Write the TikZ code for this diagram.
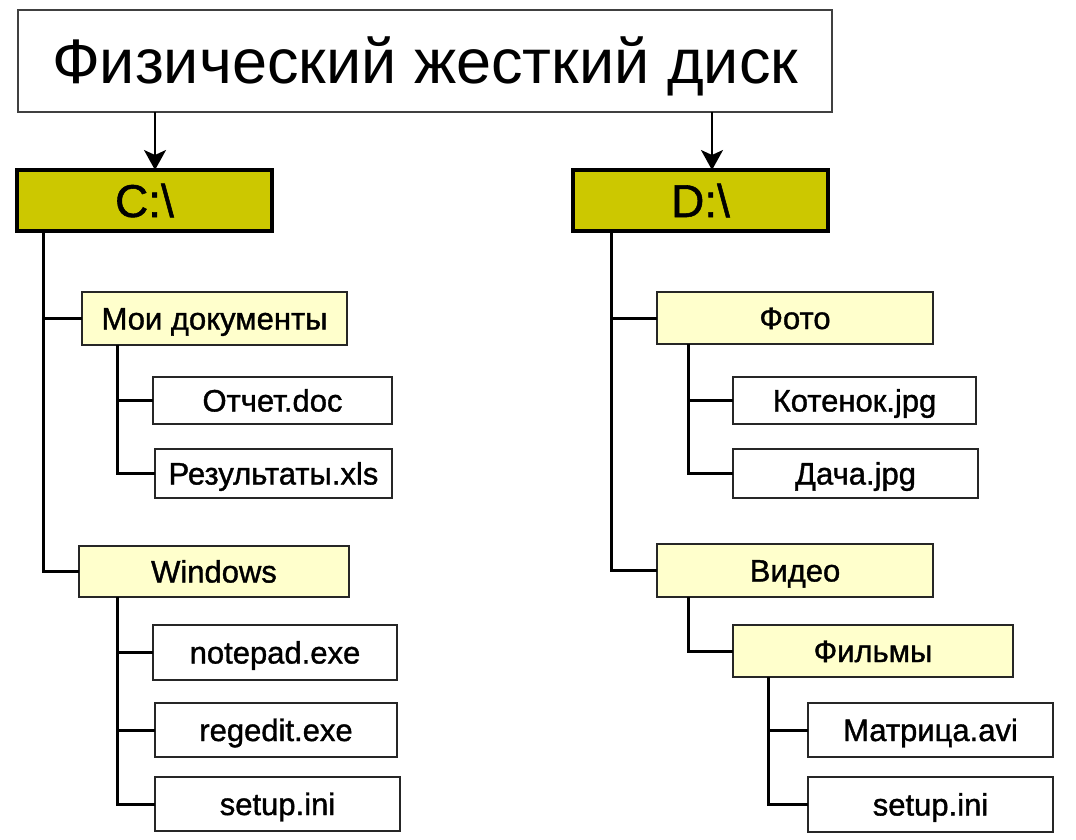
\documentclass[tikz,border=0pt]{standalone}
\usepackage{fontspec}
\setmainfont{Liberation Sans}
\newfontfamily\labelfont[FakeBold=1.2]{Liberation Sans}
\usetikzlibrary{arrows.meta}
\definecolor{drivec}{RGB}{204,200,0}
\definecolor{folderc}{RGB}{255,255,204}
\begin{document}
\begin{tikzpicture}[x=1pt,y=-1pt,
  box/.style={draw=black!85, line width=2pt, fill=white, inner sep=0pt, outer sep=0pt,
    anchor=north west, text height=22pt, text depth=0pt,
    font=\labelfont\fontsize{31}{34}\selectfont},
  folder/.style={box, fill=folderc},
  drive/.style={box, fill=drivec, draw=black, line width=3.5pt, text height=33pt, text depth=0pt,
    font=\labelfont\fontsize{46}{50}\selectfont},
  titlebox/.style={box, line width=1.8pt, draw=black!75, text height=45pt, text depth=0pt,
    font=\normalfont\fontsize{63}{70}\selectfont},
  conn/.style={line width=3pt, black},
  arr/.style={line width=2pt, black, -{Stealth[length=20pt,width=22pt,inset=5pt]}}]
\useasboundingbox[fill=white] (0,0) rectangle (1076,839);

% nodes
\node[titlebox, minimum width=814, minimum height=102] (top) at (18,10) {Физический жесткий диск};
\node[drive, minimum width=255, minimum height=61] (C) at (17,170) {C:\textbackslash};
\node[drive, minimum width=255, minimum height=61] (D) at (573,170) {D:\textbackslash};

\node[folder, minimum width=265, minimum height=53] (mydocs) at (82,292) {Мои документы};
\node[box, minimum width=239, minimum height=47] (otchet) at (153,377) {Отчет.doc};
\node[box, minimum width=237, minimum height=49] (res) at (155,449) {Результаты.xls};
\node[folder, minimum width=270, minimum height=51] (win) at (79,546) {Windows};
\node[box, minimum width=244, minimum height=55] (notepad) at (153,625) {notepad.exe};
\node[box, minimum width=242, minimum height=54] (regedit) at (155,703) {regedit.exe};
\node[box, minimum width=245, minimum height=54] (setupC) at (155,777) {setup.ini};

\node[folder, minimum width=276, minimum height=52] (foto) at (657,292) {Фото};
\node[box, minimum width=243, minimum height=47] (kot) at (733,377) {Котенок.jpg};
\node[box, minimum width=245, minimum height=49] (dacha) at (733,449) {Дача.jpg};
\node[folder, minimum width=276, minimum height=53] (video) at (657,544) {Видео};
\node[folder, minimum width=280, minimum height=52] (films) at (733,625) {Фильмы};
\node[box, minimum width=245, minimum height=54] (matrix) at (808,703) {Матрица.avi};
\node[box, minimum width=245, minimum height=55] (setupD) at (808,777) {setup.ini};

% trunk x positions
\coordinate (aC) at (155,0);
\coordinate (aD) at (712,0);
\coordinate (tC) at (43,0);
\coordinate (tMD) at (117,0);
\coordinate (tW) at (117,0);
\coordinate (tD) at (611,0);
\coordinate (tF) at (688,0);
\coordinate (tV) at (688,0);
\coordinate (tFi) at (768,0);

% arrows
\draw[arr] (aC |- top.south) -- (aC |- C.north);
\draw[arr] (aD |- top.south) -- (aD |- D.north);

% connectors
\draw[conn] (tC |- C.south) |- (mydocs.west);
\draw[conn] (tC |- C.south) |- (win.west);
\draw[conn] (tMD |- mydocs.south) |- (otchet.west);
\draw[conn] (tMD |- mydocs.south) |- (res.west);
\draw[conn] (tW |- win.south) |- (notepad.west);
\draw[conn] (tW |- win.south) |- (regedit.west);
\draw[conn] (tW |- win.south) |- (setupC.west);

\draw[conn] (tD |- D.south) |- (foto.west);
\draw[conn] (tD |- D.south) |- (video.west);
\draw[conn] (tF |- foto.south) |- (kot.west);
\draw[conn] (tF |- foto.south) |- (dacha.west);
\draw[conn] (tV |- video.south) |- (films.west);
\draw[conn] (tFi |- films.south) |- (matrix.west);
\draw[conn] (tFi |- films.south) |- (setupD.west);
\end{tikzpicture}
\end{document}
